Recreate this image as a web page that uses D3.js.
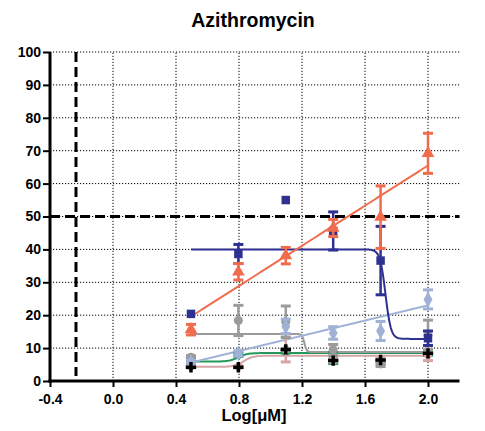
<!DOCTYPE html>
<html>
<head>
<meta charset="utf-8">
<script src="https://cdn.jsdelivr.net/npm/d3@7"></script>
<style>
  html, body { margin: 0; padding: 0; background: #fff; }
  svg text { font-family: "Liberation Sans", Arial, sans-serif; font-weight: bold; fill: #000; }
</style>
</head>
<body>
<svg id="chart" width="485" height="431"></svg>
<script>
// Log concentrations (log10 µM) of the dilution series
const logConc = [0.495, 0.796, 1.097, 1.398, 1.699, 2.0];

// Series means and SDs
const navyMean   = [20.4, 38.6, 55.0, 45.6, 36.6, 13.0];
const navySd     = [0, 2.9, 0, 5.8, 10.4, 2.2];
const orangeMean = [15.6, 33.2, 38.1, 46.5, 49.8, 69.2];
const orangeSd   = [1.6, 2.5, 2.5, 2.6, 9.5, 6.1];
const grayMean   = [7.2, 18.4, 18.0, 9.5, 5.2, 14.0];
const graySd     = [0.5, 4.6, 4.8, 1.6, 0.8, 4.5];
const blueMean   = [5.8, 8.4, 16.6, 14.6, 15.2, 24.8];
const blueSd     = [0.5, 0.8, 2.2, 1.9, 2.9, 2.9];
const greenMean  = [6.5, 8.0, 9.0, 7.0, 5.6, 8.3];
const greenSd    = [0.5, 0.5, 0.5, 1.7, 0.5, 0.5];
const roseMean   = [4.3, 4.3, 9.6, 6.3, 6.4, 7.9];
const roseSd     = [0.3, 0.3, 3.8, 0.5, 0.5, 1.7];
const blackMean  = [4.2, 4.2, 9.6, 6.2, 6.4, 8.4];

// Curve fits: 4-parameter logistic {bottom, top, logEC50, hill} or linear {a (at x0), slope}
const navyFit   = { bottom: 12.8, top: 40.0, ec: 1.73, hill: -25 };
const grayFit   = { bottom: 8.8, top: 14.3, ec: 1.215, hill: -60 };
const greenFit  = { bottom: 5.9, top: 8.5, ec: 0.795, hill: 15 };
const roseFit   = { bottom: 4.3, top: 7.7, ec: 0.83, hill: 15 };
const orangeLin = { x0: 0.495, a: 19.6, slope: 30.5 };
const blueLin   = { x0: 0.495, a: 5.6, slope: 11.56 };

// Axis ticks and reference lines
const xTicks = [-0.4, 0.0, 0.4, 0.8, 1.2, 1.6, 2.0];
const yTicks = [0, 10, 20, 30, 40, 50, 60, 70, 80, 90, 100];
const refY = 50;
const refX = -0.235;

const svg = d3.select("#chart");
const x = d3.scaleLinear().domain([-0.4, 2.2]).range([50, 459.5]);
const y = d3.scaleLinear().domain([0, 100]).range([381, 52]);

// Dotted grid
const grid = svg.append("g").attr("stroke", "#000").attr("stroke-width", 1).attr("stroke-dasharray", "1.2,1.8");
grid.selectAll("line.h").data(yTicks.filter(d => d > 0)).join("line")
  .attr("x1", x(-0.4)).attr("x2", x(2.2)).attr("y1", d => y(d)).attr("y2", d => y(d));
grid.selectAll("line.v").data(xTicks.filter(d => d > -0.4)).join("line")
  .attr("x1", d => x(d)).attr("x2", d => x(d)).attr("y1", y(0)).attr("y2", y(100));

// Dashed reference lines
svg.append("line").attr("x1", x(-0.4)).attr("x2", x(2.2)).attr("y1", y(refY)).attr("y2", y(refY))
  .attr("stroke", "#000").attr("stroke-width", 3).attr("stroke-dasharray", "10,5");
svg.append("line").attr("x1", x(refX)).attr("x2", x(refX)).attr("y1", y(100)).attr("y2", y(1.5))
  .attr("stroke", "#000").attr("stroke-width", 3).attr("stroke-dasharray", "10,5");

// Axes
const fmtX = d => d3.format(".1f")(d).replace("\u2212", "-");
const xAxis = d3.axisBottom(x).tickValues(xTicks).tickFormat(fmtX).tickSize(6).tickSizeOuter(0);
const gx = svg.append("g").attr("transform", `translate(0,${y(0)})`).call(xAxis);
gx.select(".domain").attr("stroke-width", 3).attr("d", `M${x(-0.4) - 1.5},0H${x(2.2)}`);
gx.selectAll(".tick line").attr("stroke-width", 2);
gx.selectAll(".tick text").attr("font-size", 14).attr("dy", "0").attr("y", 22.5)
  .style("font-family", "Liberation Sans, Arial, sans-serif").style("font-weight", "bold");

const yAxis = d3.axisLeft(y).tickValues(yTicks).tickSize(7).tickSizeOuter(0);
const gy = svg.append("g").attr("transform", `translate(${x(-0.4)},0)`).call(yAxis);
gy.select(".domain").attr("stroke-width", 3).attr("d", `M0,${y(0) + 1.5}V${y(100)}`);
gy.selectAll(".tick line").attr("stroke-width", 2);
gy.selectAll(".tick text").attr("font-size", 14).attr("x", -9)
  .style("font-family", "Liberation Sans, Arial, sans-serif").style("font-weight", "bold");
svg.selectAll(".tick text").attr("fill", "#000");

// Titles
svg.append("text").attr("x", 253).attr("y", 27).attr("text-anchor", "middle").attr("font-size", 19.5).text("Azithromycin");
svg.append("text").attr("x", 254).attr("y", 421).attr("text-anchor", "middle").attr("font-size", 16.5).text("Log[μM]");

// Fit curves
const logistic = p => v => p.bottom + (p.top - p.bottom) / (1 + Math.pow(10, (p.ec - v) * p.hill));
const linear = p => v => p.a + p.slope * (v - p.x0);
const xs = d3.range(0, 301).map(i => logConc[0] + (logConc[5] - logConc[0]) * i / 300);
const line = d3.line().x(d => x(d[0])).y(d => y(d[1]));
const curves = [
  [logistic(greenFit), "#25975a"],
  [logistic(roseFit), "#d6a5a6"],
  [logistic(grayFit), "#9b9b9b"],
  [linear(blueLin), "#9fb2d6"],
  [logistic(navyFit), "#2e3192"],
  [linear(orangeLin), "#f16c4d"]
];
curves.forEach(([f, c]) => {
  svg.append("path").attr("d", line(xs.map(v => [v, f(v)])))
    .attr("fill", "none").attr("stroke", c).attr("stroke-width", 2);
});

// Points with error bars
function drawSeries(mean, sd, color, symbolType, size) {
  const g = svg.append("g");
  const data = logConc.map((lx, i) => ({ lx, m: mean[i], s: sd ? sd[i] : 0 }));
  const eb = data.filter(d => d.s > 0);
  g.selectAll("line.bar").data(eb).join("line")
    .attr("x1", d => x(d.lx)).attr("x2", d => x(d.lx))
    .attr("y1", d => y(d.m + d.s)).attr("y2", d => y(d.m - d.s))
    .attr("stroke", color).attr("stroke-width", 2.5);
  ["+", "-"].forEach(sign => {
    g.selectAll("line.cap" + (sign === "+" ? "t" : "b")).data(eb).join("line")
      .attr("x1", d => x(d.lx) - 5).attr("x2", d => x(d.lx) + 5)
      .attr("y1", d => y(sign === "+" ? d.m + d.s : d.m - d.s))
      .attr("y2", d => y(sign === "+" ? d.m + d.s : d.m - d.s))
      .attr("stroke", color).attr("stroke-width", 3);
  });
  g.selectAll("path.pt").data(data).join("path")
    .attr("transform", d => `translate(${x(d.lx)},${y(d.m)})`)
    .attr("d", d3.symbol().type(symbolType).size(size))
    .attr("fill", color);
}
drawSeries(greenMean, greenSd, "#25975a", d3.symbolCircle, 64);
drawSeries(roseMean, roseSd, "#d6a5a6", d3.symbolCircle, 50);
drawSeries(grayMean, graySd, "#9b9b9b", d3.symbolCircle, 64);
drawSeries(blueMean, blueSd, "#9fb2d6", d3.symbolDiamond, 70);
drawSeries(navyMean, navySd, "#2e3192", d3.symbolSquare, 72);
drawSeries(orangeMean, orangeSd, "#f16c4d", d3.symbolTriangle, 70);
drawSeries(blackMean, null, "#000", d3.symbolCross, 60);
</script>
</body>
</html>
